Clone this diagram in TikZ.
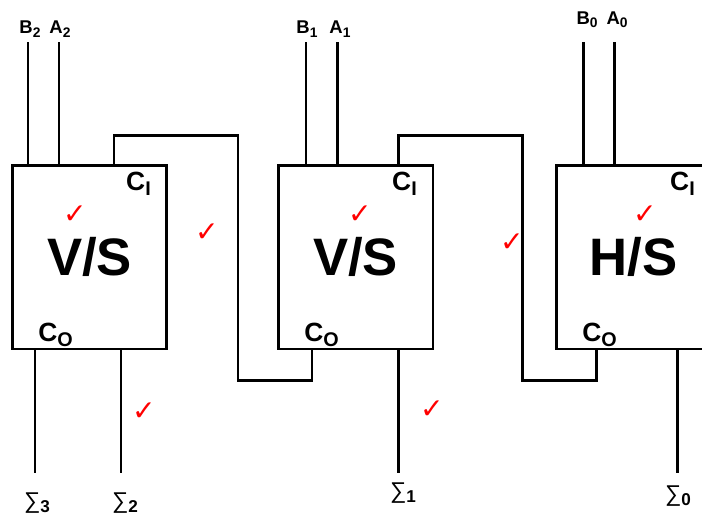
\documentclass[tikz,border=0pt]{standalone}
\usepackage{fontspec}
\setmainfont{Liberation Sans}
\newfontfamily\checkfont{DejaVu Sans}
\usetikzlibrary{calc}
\newcommand{\lowsub}[1]{\raisebox{-0.35ex}{\scalebox{0.75}{#1}}}
\tikzset{
    adder/.style={draw=black, line width=1.7pt, minimum width=3.1cm, minimum height=3.68cm, inner sep=0pt, font=\fontsize{30}{30}\selectfont\bfseries},
    wire/.style={draw=black, line width=1.7pt},
    pinlabel/.style={font=\fontsize{10.5}{10.5}\selectfont\bfseries, inner sep=0pt},
    carrylabel/.style={font=\fontsize{15}{15}\selectfont\bfseries, inner sep=0pt},
    sumlabel/.style={font=\fontsize{13}{13}\selectfont, inner sep=0pt},
    tick/.style={text=red, font=\checkfont\fontsize{16}{16}\selectfont\bfseries, inner sep=0pt},
}
\newcommand{\drawadder}[3]{
    \node [adder] (#1) at (#2,257) {#3};
    \node [carrylabel] (#1ci) at ($(#1.north east)+(-30,20)$) {C\lowsub{I}};
    \node [carrylabel] (#1co) at ($(#1.south west)+(45,-16)$) {C\lowsub{O}};
}

\begin{document}
\begin{tikzpicture}[x=0.02cm, y=-0.02cm]
    \useasboundingbox (0,0) rectangle (702,515);
    \clip (0,0) rectangle (702,515);
    \drawadder{box1}{89.5}{V/S};
    \drawadder{box2}{355.5}{V/S};
    \drawadder{box3}{633.5}{H/S};
    % inputs
    \node [pinlabel] (lb2) at (30,29) {B\lowsub{2}};
    \node [pinlabel] (la2) at (60,29) {A\lowsub{2}};
    \node [pinlabel] (lb1) at (307,29) {B\lowsub{1}};
    \node [pinlabel] (la1) at (340,29) {A\lowsub{1}};
    \node [pinlabel] (lb0) at (587,20) {B\lowsub{0}};
    \node [pinlabel] (la0) at (617,20) {A\lowsub{0}};
    \coordinate (b2) at (28,42);
    \coordinate (a2) at (59,42);
    \coordinate (b1) at (306,42);
    \coordinate (a1) at (337,42);
    \coordinate (b0) at (583,42);
    \coordinate (a0) at (614,42);
    \foreach \p/\b in {b2/box1, a2/box1, b1/box2, a1/box2, b0/box3, a0/box3}
        \draw [wire] (\p) -- (\p |- \b.north);
    % carries
    \coordinate (cin1) at (114,165);
    \coordinate (cout2) at (312,349);
    \coordinate (cin2) at (398,165);
    \coordinate (cout3) at (596,349);
    \draw [wire] (cin1) -- ++(0,-30) -| (238,380) -| (cout2);
    \draw [wire] (cin2) -- ++(0,-30) -| (522,380) -| (cout3);
    % sums
    \node [sumlabel] (s3) at (37,503) {∑\lowsub{\bfseries 3}};
    \node [sumlabel] (s2) at (125,503) {∑\lowsub{\bfseries 2}};
    \node [sumlabel] (s1) at (403,493) {∑\lowsub{\bfseries 1}};
    \node [sumlabel] (s0) at (678,496) {∑\lowsub{\bfseries 0}};
    \coordinate (o3) at (35,473);
    \coordinate (o2) at (121,473);
    \coordinate (o1) at (398,473);
    \coordinate (o0) at (677,473);
    \foreach \p/\b in {o3/box1, o2/box1, o1/box2, o0/box3}
        \draw [wire] (\p |- \b.south) -- (\p);
    % ticks
    \node [tick] (t1) at (75,215) {✓};
    \node [tick] (t2) at (207,233) {✓};
    \node [tick] (t3) at (360,215) {✓};
    \node [tick] (t4) at (512,243) {✓};
    \node [tick] (t5) at (645,215) {✓};
    \node [tick] (t6) at (144,412) {✓};
    \node [tick] (t7) at (432,410) {✓};
\end{tikzpicture}
\end{document}
